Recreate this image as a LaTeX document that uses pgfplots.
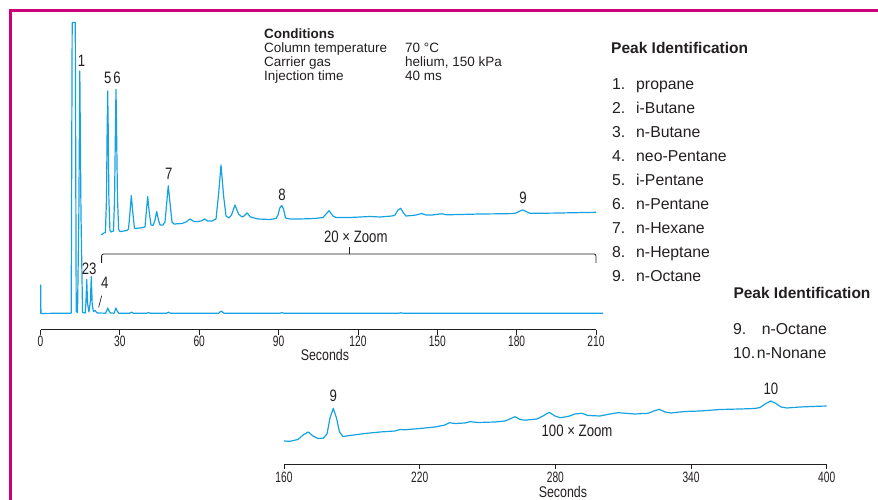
\documentclass[border=0pt]{standalone}
\usepackage{pgfplots}
\pgfplotsset{compat=1.18}
\usepackage{fontspec}
\setmainfont{Liberation Sans}
\newfontfamily\condfont{Liberation Sans}[FakeStretch=0.8]
\newfontfamily\tickfont{Liberation Sans}[FakeStretch=0.68]
\definecolor{trace}{RGB}{22,162,226}
\definecolor{framecol}{RGB}{204,0,122}
\definecolor{ink}{RGB}{35,31,32}

% 1x signal (baseline = 0)
\pgfplotstableread{
t v
0 0
0.06 0
0.10 28.5
0.16 0
5 0.2
11.6 0.3
11.98 291
13.15 291
13.5 2
14.0 1
14.5 100
14.86 242.5
15.3 100
15.9 1
16.9 0.5
17.2 12
17.47 34
17.8 10
18.3 1.5
18.85 12
19.2 37
19.55 9
20.0 2
20.6 3
21.4 0.5
24.6 0.3
25.1 3
25.4 5.5
25.8 3
26.4 0.5
27.8 0.3
28.2 3
28.5 5.5
28.9 3
29.6 0.2
33.6 0.2
34.4 1.3
35.2 0.2
40.0 0.2
40.8 0.9
41.6 0.2
47.6 0.2
48.4 1.3
49.2 0.2
67.3 0.2
68.3 2.5
69.4 0.3
90.5 0.3
91.2 0.8
92.0 0.3
135.5 0.3
136.2 0.7
137.0 0.3
212.7 0.2
}\lowtrace

% 20x zoom signal, offset above the 1x trace
\pgfplotstableread{
t v
22.87 78.5
24.01 80.5
24.55 81
24.95 115
25.20 185
25.40 222.5
25.60 185
25.85 115
26.25 83
26.65 81.5
27.60 82.5
28.00 115
28.33 185
28.54 224.2
28.75 185
29.10 115
29.55 84
30.05 82
31.57 82.5
32.70 83
33.27 84.5
33.84 101.5
34.33 118
34.86 101.5
35.54 85
37.62 85.5
39.51 86.5
40.00 101.5
40.53 117
41.09 101.5
41.77 88.5
42.53 88
43.29 93.5
43.93 102
44.61 93.5
45.18 88.5
46.31 88.5
47.07 91.5
47.71 110.5
48.31 127.8
48.96 110.5
49.71 91.5
50.47 89.5
53.49 90
55.01 91.5
56.52 94.5
58.03 92
59.54 92
60.68 92.5
62.00 94.5
63.32 92.5
64.83 92.5
66.35 94.5
67.29 118.5
68.24 148.5
69.18 118.5
70.13 97.5
71.26 95.5
72.21 98.5
73.53 108.5
74.85 99.5
76.18 96.5
76.93 97.5
78.07 100.5
79.39 96.5
82.22 94.5
86.76 94
89.03 95
89.79 98.5
90.47 105.5
91.18 108
91.86 104.5
92.62 95.5
94.32 94.5
98.10 94.5
103.77 95
106.80 96
109.07 102.8
110.58 97.5
111.71 96
117.00 96
120.78 96.5
124.57 97
128.35 96.5
132.88 97.5
134.02 98.5
135.15 103.5
136.17 105.2
137.23 100.5
138.17 97.5
140.44 98
141.96 98.5
144.11 100
145.74 98.5
148.00 98.5
149.52 99
151.67 99.7
153.67 98.7
158.59 99
166.15 99.5
173.71 99.7
178.25 99.9
179.76 100.5
181.27 102.5
182.29 103.5
183.54 102
185.05 100.2
188.83 100.2
196.40 100.5
203.95 100.9
210.00 101.2
}\zoomtrace

% 100x zoom signal, 160-400 s
\pgfplotstableread{
t v
160.00 23.5
162.65 23.2
166.19 25
168.40 29.5
170.75 32.5
172.82 28.5
175.04 26
177.25 26.2
179.02 30.5
180.34 46.5
181.80 56.2
183.22 46.5
184.54 32.5
186.09 28
189.19 29
195.82 31
202.45 32.5
209.09 33.5
211.30 35
213.51 34.7
220.14 36
226.78 37.5
231.20 39.5
233.10 41.8
235.62 41
240.05 41.5
242.25 42.8
245.79 42
253.31 42.5
257.73 43.5
260.39 46
262.15 47.8
264.37 45
266.58 44.3
271.89 45.5
274.54 48.5
277.32 52.2
279.84 48.5
282.05 46.8
285.59 48
288.69 50.5
291.65 51.2
294.44 49
299.75 48.5
304.17 50.5
307.70 51.8
315.22 50.5
320.97 51.2
323.62 53.5
325.97 55.2
328.49 52.5
331.14 51.5
337.34 53
343.97 53.5
352.81 55
361.66 55.5
368.29 56
370.50 57
372.71 60.5
375.23 63.5
377.58 61
379.79 57.5
382.44 56.5
388.19 57.5
393.50 58
400.00 58.5
}\longtrace

\pgfplotsset{
  chrom/.style={
    scale only axis, anchor=south west, clip=false,
    axis x line=bottom, axis y line=none,
    axis line style={ink, line width=0.8pt, -},
    tick align=outside, major tick length=5pt,
    tick style={ink, line width=0.8pt},
    /pgf/number format/assume math mode=true,
    xticklabel style={font=\tickfont\fontsize{15}{15}\selectfont, text=ink, inner sep=0pt, anchor=north},
    xlabel style={font=\condfont\fontsize{15.5}{16}\selectfont, text=ink, inner sep=0pt, anchor=center},
  },
}
\tikzset{peak/.style={font=\condfont\fontsize{16.5}{17}\selectfont, text=ink, inner sep=0pt}}

\begin{document}
\begin{tikzpicture}[x=1pt,y=1pt]
% magenta page frame
\draw[framecol, line width=3pt] (10,-5) -- (10,489.5) -- (890,489.5);

% main chromatogram with 20x zoom trace
\begin{axis}[chrom,
  at={(40.5pt,170.3pt)}, width=555.5pt, height=309.7pt,
  xmin=0, xmax=210, ymin=-16.2, ymax=293.5,
  xtick={0,30,...,210},
  xticklabel style={yshift=-1.2pt},
  xlabel={Seconds},
  xlabel style={at={(axis description cs:0.512,0)}, yshift=-25.6pt},
]
\addplot[trace, line width=1.2pt, line join=round] table[x=t, y=v] {\lowtrace};
\addplot[trace, line width=1.2pt, line join=round] table[x=t, y=v] {\zoomtrace};
% zoom bracket
\draw[ink, line width=0.8pt, rounded corners=2pt]
  (axis cs:23.1,50.5) -- (axis cs:23.1,59.5) -- (axis cs:210,59.5) -- (axis cs:210,50.5);
\draw[ink, line width=0.8pt] (axis cs:116.6,59.5) -- (axis cs:116.6,66.5);
\node[peak] at (axis cs:119.2,76.8) {20 × Zoom};
% peak numbers
\node[peak] at (axis cs:15.5,252.5) {1};
\node[peak] at (axis cs:25.4,235.5) {5};
\node[peak] at (axis cs:28.9,235.5) {6};
\node[peak] at (axis cs:48.5,139.8) {7};
\node[peak] at (axis cs:91.3,119) {8};
\node[peak] at (axis cs:182.4,115.8) {9};
\node[peak] at (axis cs:18.4,44.5) {23};
\node[peak] at (axis cs:24.3,30.5) {4};
\draw[ink, line width=0.7pt] (axis cs:21.99,6.2) -- (axis cs:23.12,17.8);
\end{axis}

% 100x zoom trace
\begin{axis}[chrom,
  at={(284pt,35.5pt)}, width=542.7pt, height=80pt,
  xmin=160, xmax=400, ymin=0, ymax=80,
  xtick={160,220,...,400},
  xticklabel style={yshift=-2.4pt},
  xlabel={Seconds},
  xlabel style={at={(axis description cs:0.514,0)}, yshift=-27.6pt},
]
\addplot[trace, line width=1.2pt, line join=round] table[x=t, y=v] {\longtrace};
\node[peak] at (axis cs:181.8,68.5) {9};
\node[peak] at (axis cs:375.3,75.2) {10};
\node[peak] at (axis cs:289.6,33.8) {100 × Zoom};
\end{axis}

% run conditions
\begin{scope}[every node/.style={anchor=base west, inner sep=0pt, text=ink, font=\fontsize{13.5}{14}\selectfont}]
\node[font=\bfseries\fontsize{13.5}{14}\selectfont] at (264,461.7) {Conditions};
\node at (264,447.3) {Column temperature};
\node at (264,433.3) {Carrier gas};
\node at (264,419.0) {Injection time};
\node at (405,447.3) {70 °C};
\node at (405,433.3) {helium, 150 kPa};
\node at (405,419.0) {40 ms};
\end{scope}

% peak identification lists
\begin{scope}[every node/.style={anchor=base west, inner sep=0pt, text=ink, font=\fontsize{15.8}{16}\selectfont}]
\node[font=\bfseries\fontsize{15.5}{16}\selectfont] at (611,446) {Peak Identification};
\node at (612,410) {1.}; \node at (636,410) {propane};
\node at (612,386) {2.}; \node at (636,386) {i-Butane};
\node at (612,362) {3.}; \node at (636,362) {n-Butane};
\node at (612,338) {4.}; \node at (636,338) {neo-Pentane};
\node at (612,314) {5.}; \node at (636,314) {i-Pentane};
\node at (612,290) {6.}; \node at (636,290) {n-Pentane};
\node at (612,266) {7.}; \node at (636,266) {n-Hexane};
\node at (612,242) {8.}; \node at (636,242) {n-Heptane};
\node at (612,218) {9.}; \node at (636,218) {n-Octane};
\node[font=\bfseries\fontsize{15.5}{16}\selectfont] at (733.3,201.3) {Peak Identification};
\node at (733,165) {9.}; \node at (761.7,165) {n-Octane};
\node at (733,141) {10.}; \node at (756.7,141) {n-Nonane};
\end{scope}

\pgfresetboundingbox
\path[use as bounding box] (0,0) rectangle (878,500);
\end{tikzpicture}
\end{document}
